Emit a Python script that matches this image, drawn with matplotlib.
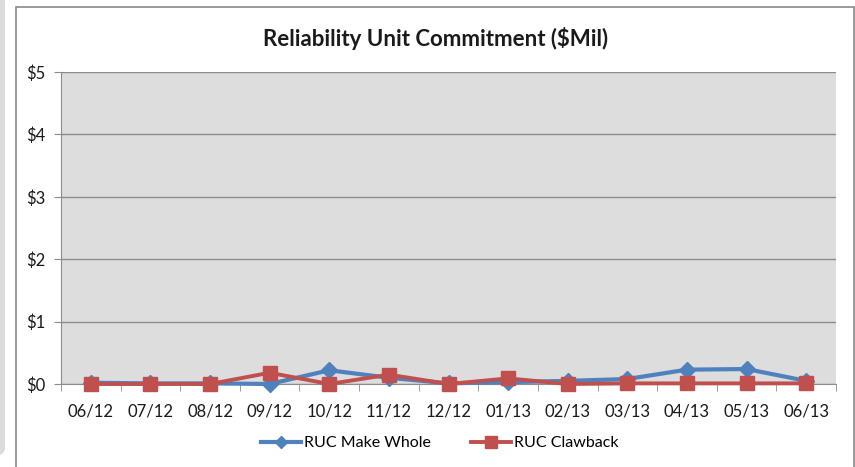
import matplotlib
matplotlib.use("Agg")
import matplotlib.pyplot as plt
from matplotlib.patches import Rectangle, FancyBboxPatch
import numpy as np

months = ["06/12", "07/12", "08/12", "09/12", "10/12", "11/12", "12/12",
          "01/13", "02/13", "03/13", "04/13", "05/13", "06/13"]
make_whole = [0.02, 0.01, 0.01, 0.00, 0.22, 0.10, 0.01, 0.03, 0.05, 0.08, 0.23, 0.24, 0.05]
clawback   = [0.00, 0.00, 0.00, 0.18, 0.00, 0.15, 0.00, 0.09, 0.00, 0.01, 0.01, 0.01, 0.01]
yticks = [0, 1, 2, 3, 4, 5]

BLUE = "#4F81BD"
RED = "#C0504D"
PLOT_BG = "#DDDDDD"
GRID = "#8C8C8C"
TEXT = "#1a1a1a"

plt.rcParams["font.family"] = ["Lato", "DejaVu Sans"]

W, H = 855, 467
fig = plt.figure(figsize=(W / 100, H / 100), dpi=100, facecolor="white")

# left grey strip and chart frame
fig.patches.append(FancyBboxPatch((-20 / W, 10 / H), 25 / W, 500 / H,
                                  boxstyle="round,pad=0,rounding_size=0.02",
                                  transform=fig.transFigure, facecolor="#DCDCDC",
                                  edgecolor="none", zorder=-2))
fig.patches.append(Rectangle((16 / W, -5 / H), 838 / W, (H - 7 + 5) / H,
                             transform=fig.transFigure, facecolor="white",
                             edgecolor="#8A8A8A", linewidth=1.2, zorder=-1))

ax = fig.add_axes([61 / W, 1 - 384 / H, (836 - 61) / W, (384 - 72) / H])
ax.set_zorder(2)
ax.set_facecolor(PLOT_BG)
x = np.arange(len(months))

ax.plot(x, make_whole, color=BLUE, lw=3, marker="D", ms=8,
        mfc=BLUE, mec=BLUE, label="RUC Make Whole", zorder=4, clip_on=False)
ax.plot(x, clawback, color=RED, lw=2.8, marker="s", ms=10,
        mfc=RED, mec=RED, label="RUC Clawback", zorder=5, clip_on=False)

ax.set_xlim(-0.5, len(months) - 0.5)
ax.set_ylim(0, 5)
ax.set_yticks(yticks)
ax.set_yticklabels([f"${v}" for v in yticks], fontsize=12, color=TEXT)
ax.set_xticks(x)
ax.set_xticklabels(months, fontsize=12, color=TEXT)
ax.tick_params(axis="x", length=0, pad=14)
ax.set_xticks(np.arange(-0.5, len(months)), minor=True)
ax.tick_params(axis="x", which="minor", length=5, color=GRID, direction="out")
ax.tick_params(axis="y", length=5, color=GRID, pad=6)

ax.grid(True, axis="y", color=GRID, lw=1)
ax.set_axisbelow(True)
for s in ["top", "right"]:
    ax.spines[s].set_visible(False)
ax.spines["left"].set_color(GRID)
ax.spines["bottom"].set_color(GRID)

fig.text(436 / W, 1 - 38 / H, "Reliability Unit Commitment ($Mil)",
         ha="center", va="center", fontsize=16, fontweight="bold", color=TEXT)

fig.legend(loc="center", bbox_to_anchor=(440 / W, 1 - 443 / H), ncol=2,
           frameon=False, fontsize=11.5, handlelength=2.5, columnspacing=2.5,
           handletextpad=0.2, markerscale=0.8)

fig.savefig("out.png", dpi=100, facecolor="white")
